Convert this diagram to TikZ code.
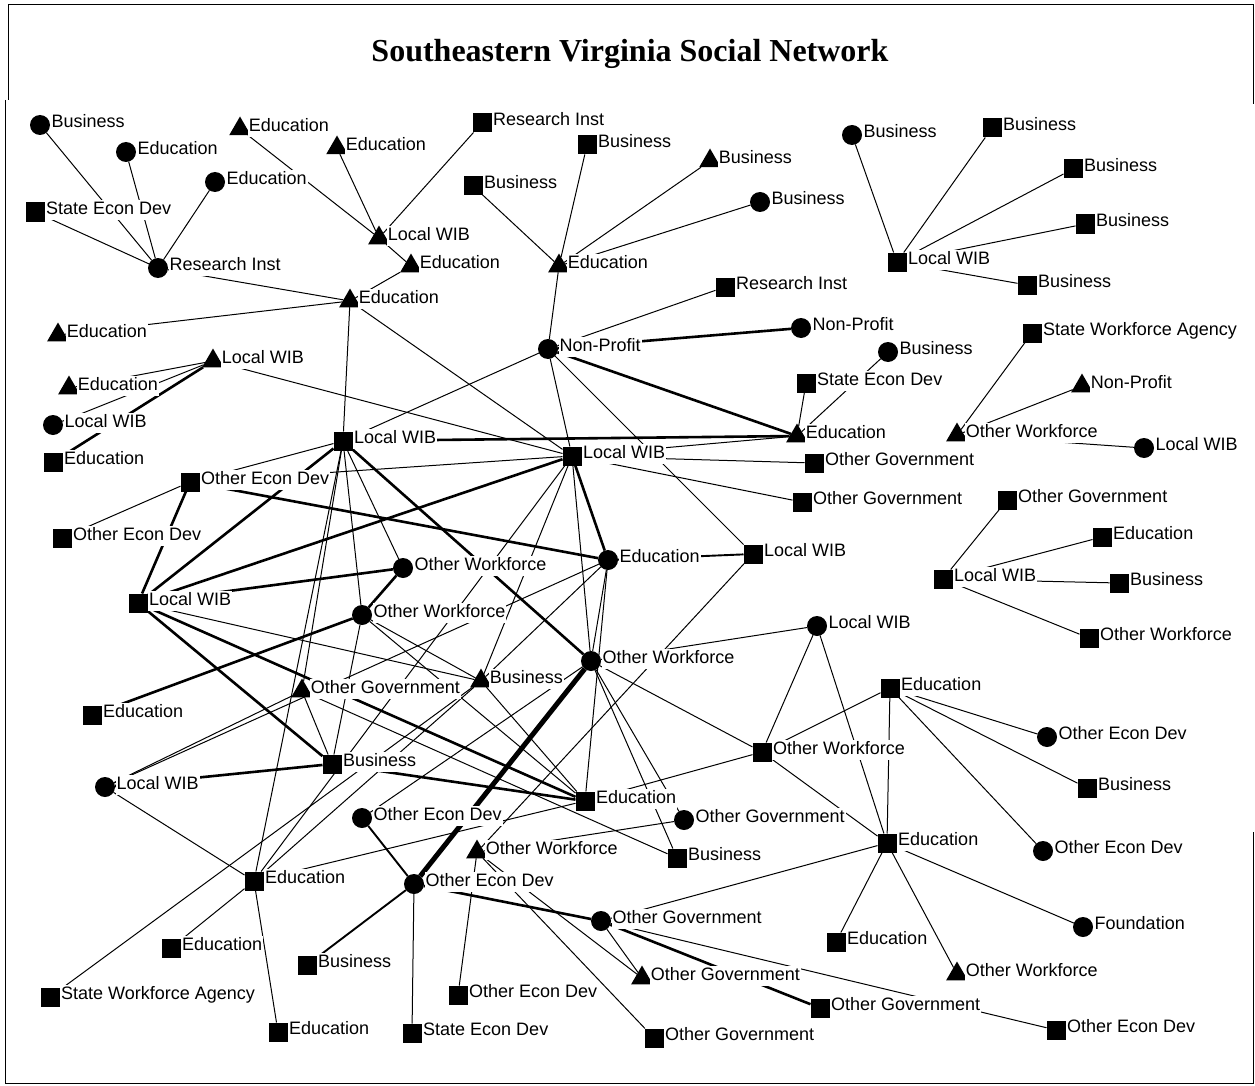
\documentclass[tikz,border=0pt]{standalone}
\usepackage{fontspec}
\setmainfont{Liberation Serif}
\setsansfont{Liberation Sans}
\usetikzlibrary{shapes.geometric}
\pgfdeclarelayer{edges}
\pgfsetlayers{edges,main}
\begin{document}
\begin{tikzpicture}[x=1pt,y=-1pt,
  mk/.style={fill=black,draw=none,inner sep=0pt,outer sep=0pt},
  sq/.style={mk,rectangle,minimum size=19pt},
  ci/.style={mk,circle,minimum size=20pt},
  tr/.style={mk,regular polygon,regular polygon sides=3,minimum size=25pt,yshift=-3pt},
  lbl/.style={fill=white,inner xsep=1pt,inner ysep=1.5pt,text height=13pt,text depth=4pt,
    font=\sffamily\fontsize{18}{18}\selectfont,label distance=0.5pt,yshift=2pt},
  L/.style={label={[lbl]east:#1}},
  ln/.style={line width=1pt},
  md/.style={line width=1.9pt},
  tk/.style={line width=2.6pt},
  xk/.style={line width=5pt},
  frame/.style={line width=1pt}]
\useasboundingbox (0,0) rectangle (1255,1086);
% frame and title
\draw[frame] (8,100) -- (8,5) -- (1253,5) -- (1253,104);
\draw[frame] (5,100) -- (5,1083) -- (1253,1083) -- (1253,832);
\node[font=\bfseries\fontsize{32}{32}\selectfont] (title) at (630,54) {Southeastern Virginia Social Network};
% actors
\node[ci,L=Business] (n1) at (40,125) {};
\node[ci,L=Education] (n2) at (126,152) {};
\node[ci,L=Education] (n3) at (215,182) {};
\node[sq,L=State Econ Dev] (n4) at (35,212) {};
\node[ci,L=Research Inst] (n5) at (158,268) {};
\node[tr,L=Education] (n6) at (240,126) {};
\node[tr,L=Education] (n7) at (337,145) {};
\node[sq,L=Research Inst] (n8) at (482,123) {};
\node[tr,L=Local WIB] (n9) at (379,235) {};
\node[tr,L=Education] (n10) at (411,263) {};
\node[tr,L=Education] (n11) at (350,298) {};
\node[tr,L=Education] (n12) at (58,332) {};
\node[tr,L=Local WIB] (n13) at (213,358) {};
\node[tr,L=Education] (n14) at (69,385) {};
\node[ci,L=Local WIB] (n15) at (53,425) {};
\node[sq,L=Education] (n16) at (53,462) {};
\node[sq,L=Business] (n17) at (587,145) {};
\node[sq,L=Business] (n18) at (473,186) {};
\node[tr,L=Business] (n19) at (710,158) {};
\node[ci,L=Business] (n20) at (760,202) {};
\node[tr,L=Education] (n21) at (559,263) {};
\node[sq,L=Research Inst] (n22) at (725,287) {};
\node[ci,L=Non-Profit] (n23) at (548,349) {};
\node[ci,L=Non-Profit] (n24) at (801,328) {};
\node[ci,L=Business] (n25) at (888,352) {};
\node[sq,L=State Econ Dev] (n26) at (806,383) {};
\node[tr,L=Education] (n27) at (797,433) {};
\node[ci,L=Business] (n28) at (852,135) {};
\node[sq,L=Business] (n29) at (992,128) {};
\node[sq,L=Business] (n30) at (1073,169) {};
\node[sq,L=Business] (n31) at (1085,224) {};
\node[sq,L=Local WIB] (n32) at (897,262) {};
\node[sq,L=Business] (n33) at (1027,285) {};
\node[sq,L=State Workforce Agency] (n34) at (1032,333) {};
\node[tr,L=Non-Profit] (n35) at (1082,383) {};
\node[tr,L=Other Workforce] (n36) at (957,432) {};
\node[ci,L=Local WIB] (n37) at (1144,448) {};
\node[sq,L=Other Government] (n38) at (1007,500) {};
\node[sq,L=Education] (n39) at (1102,537) {};
\node[sq,L=Local WIB] (n40) at (943,579) {};
\node[sq,L=Business] (n41) at (1119,583) {};
\node[sq,L=Other Workforce] (n42) at (1089,638) {};
\node[sq,L=Local WIB] (n43) at (343,441) {};
\node[sq,L=Local WIB] (n44) at (572,456) {};
\node[sq,L=Other Government] (n45) at (814,463) {};
\node[sq,L=Other Government] (n46) at (802,502) {};
\node[sq,L=Other Econ Dev] (n47) at (190,482) {};
\node[sq,L=Other Econ Dev] (n48) at (62,538) {};
\node[ci,L=Education] (n49) at (608,560) {};
\node[sq,L=Local WIB] (n50) at (753,554) {};
\node[ci,L=Other Workforce] (n51) at (403,568) {};
\node[sq,L=Local WIB] (n52) at (138,603) {};
\node[ci,L=Other Workforce] (n53) at (362,615) {};
\node[ci,L=Local WIB] (n54) at (817,626) {};
\node[ci,L=Other Workforce] (n55) at (591,661) {};
\node[tr,L=Business] (n56) at (481,678) {};
\node[tr,L=Other Government] (n57) at (302,688) {};
\node[sq,L=Education] (n58) at (92,715) {};
\node[sq,L=Education] (n59) at (890,688) {};
\node[ci,L=Other Econ Dev] (n60) at (1047,737) {};
\node[sq,L=Other Workforce] (n61) at (762,752) {};
\node[ci,L=Local WIB] (n62) at (105,787) {};
\node[sq,L=Business] (n63) at (332,764) {};
\node[sq,L=Education] (n64) at (585,801) {};
\node[sq,L=Business] (n65) at (1087,788) {};
\node[ci,L=Other Econ Dev] (n66) at (362,818) {};
\node[ci,L=Other Government] (n67) at (684,820) {};
\node[tr,L=Other Workforce] (n68) at (477,849) {};
\node[sq,L=Education] (n69) at (887,843) {};
\node[ci,L=Other Econ Dev] (n70) at (1043,851) {};
\node[sq,L=Business] (n71) at (677,858) {};
\node[sq,L=Education] (n72) at (254,881) {};
\node[ci,L=Other Econ Dev] (n73) at (414,884) {};
\node[ci,L=Other Government] (n74) at (601,921) {};
\node[ci,L=Foundation] (n75) at (1083,927) {};
\node[sq,L=Education] (n76) at (171,948) {};
\node[sq,L=Education] (n77) at (836,942) {};
\node[sq,L=Business] (n78) at (307,965) {};
\node[tr,L=Other Workforce] (n79) at (957,971) {};
\node[tr,L=Other Government] (n80) at (642,975) {};
\node[sq,L=Other Econ Dev] (n81) at (458,995) {};
\node[sq,L=State Workforce Agency] (n82) at (50,997) {};
\node[sq,L=Other Government] (n83) at (820,1008) {};
\node[sq,L=Education] (n84) at (278,1032) {};
\node[sq,L=State Econ Dev] (n85) at (412,1033) {};
\node[sq,L=Other Econ Dev] (n86) at (1056,1030) {};
\node[sq,L=Other Government] (n87) at (654,1038) {};
% ties
\begin{pgfonlayer}{edges}
\foreach \a/\b in {n1/n5,n2/n5,n3/n5,n4/n5,n5/n11,n6/n9,n7/n9,n8/n9,n9/n10,n10/n11,n12/n11,
  n14/n13,n15/n13,n13/n44,n11/n43,n11/n44,
  n17/n21,n18/n21,n21/n19,n21/n20,n21/n23,n22/n23,n23/n43,n23/n44,n23/n50,n26/n27,n25/n27,
  n28/n32,n29/n32,n30/n32,n31/n32,n33/n32,n34/n36,n35/n36,n36/n37,
  n40/n38,n40/n39,n40/n41,n40/n42,
  n44/n27,n44/n45,n44/n46,n50/n68,n54/n55,n54/n61,n54/n69,n59/n61,n59/n69,n59/n60,n59/n65,n59/n70,
  n55/n61,n55/n71,n47/n48,n47/n43,n47/n44,n52/n56,n43/n51,n43/n53,n44/n55,n44/n56,n44/n72,
  n53/n56,n53/n63,n53/n64,n56/n64,n56/n72,n62/n72,n72/n76,n72/n84,n62/n57,n62/n49,n43/n57,n43/n72,
  n57/n63,n49/n55,n49/n56,n49/n64,n66/n55,n73/n85,n68/n81,n68/n80,n68/n87,n68/n67,n74/n80,n74/n86,n74/n69,
  n61/n64,n64/n72,n61/n69,n55/n67,n69/n77,n69/n79,n69/n75,n82/n56,n57/n71}
  \draw[ln] (\a) -- (\b);
\foreach \a/\b in {n16/n13,n23/n24,n23/n27,n43/n27,n47/n52,n47/n49,n43/n52,n52/n44,n52/n51,
  n52/n64,n52/n63,n58/n53,n43/n55,n51/n53,n44/n49,n62/n63,n63/n64,n73/n74,n74/n83}
  \draw[tk] (\a) -- (\b);
\foreach \a/\b in {n49/n50,n73/n66,n73/n78}
  \draw[md] (\a) -- (\b);
\draw[xk] (n55) -- (n73);
\end{pgfonlayer}
\end{tikzpicture}
\end{document}
